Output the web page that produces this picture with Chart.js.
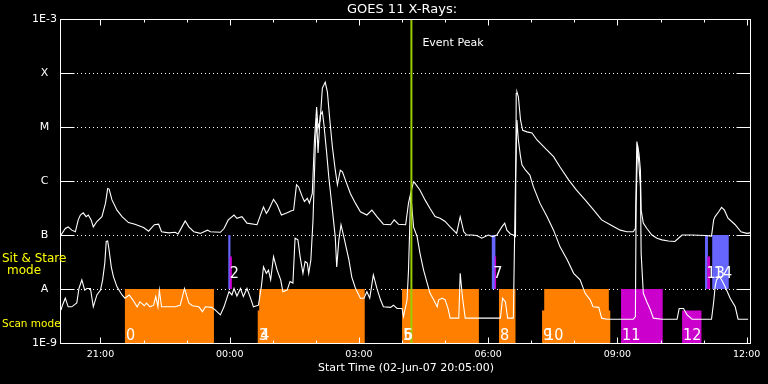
<!DOCTYPE html>
<html>
<head>
<meta charset="utf-8">
<script src="https://cdn.jsdelivr.net/npm/chart.js@4.4.1/dist/chart.umd.min.js"></script>
<style>
  html, body { margin: 0; padding: 0; background: #000; }
  canvas { display: block; }
</style>
</head>
<body>
<canvas id="goes" width="768" height="384"></canvas>
<script>
// GOES 11 X-ray flux, times in minutes after 02-Jun-07 20:05:00, flux as log10(W/m^2)
const longTime = [0, 6, 10, 15, 20, 24, 27, 31, 35, 38, 42, 45, 50, 57, 62, 65, 67, 71, 78, 85,
  94, 103, 115, 122, 130, 136, 140, 150, 159, 163, 166, 173, 178, 185, 194, 204, 208, 222, 227, 233,
  241, 245, 252, 259, 273, 282, 286, 289, 296, 301, 307, 315, 321, 324, 328, 331, 336, 339, 343, 346,
  350, 353, 356, 358, 361, 364, 368, 371, 374, 378, 382, 385, 389, 392, 396, 403, 410, 417, 426, 433,
  440, 449, 459, 464, 470, 480, 484, 487, 491, 493, 500, 507, 514, 521, 528, 535, 542, 551, 556, 561,
  565, 572, 579, 586, 595, 601, 607, 614, 618, 621, 626, 630, 633, 634, 635, 637, 640, 643, 649, 656,
  663, 677, 686, 695, 707, 718, 730, 742, 753, 765, 779, 788, 797, 800, 802, 805, 807, 808, 811, 816,
  823, 830, 837, 846, 855, 860, 865, 879, 897, 906, 909, 911, 916, 920, 924, 929, 939, 947, 955, 960];
const longLog = [-7.00, -6.88, -6.85, -6.91, -6.94, -6.72, -6.63, -6.59, -6.66, -6.63, -6.72, -6.85, -6.75, -6.66, -6.41, -6.14, -6.15, -6.35, -6.54, -6.66,
  -6.77, -6.80, -6.86, -6.93, -6.81, -6.80, -6.94, -6.96, -6.95, -6.98, -6.91, -6.74, -6.85, -6.94, -6.97, -6.91, -6.94, -6.95, -6.88, -6.72,
  -6.63, -6.69, -6.66, -6.78, -6.81, -6.48, -6.60, -6.54, -6.34, -6.44, -6.63, -6.59, -6.55, -6.54, -6.07, -6.11, -6.29, -6.38, -6.32, -6.41,
  -6.23, -5.24, -4.63, -5.02, -4.87, -4.28, -4.17, -4.35, -4.81, -5.37, -5.80, -6.07, -5.80, -5.83, -5.98, -6.23, -6.41, -6.57, -6.63, -6.54,
  -6.66, -6.80, -6.81, -6.72, -6.80, -6.81, -6.41, -6.23, -6.01, -6.04, -6.17, -6.35, -6.51, -6.66, -6.69, -6.75, -6.85, -6.97, -6.66, -6.94,
  -7.00, -7.00, -7.01, -7.06, -7.00, -7.03, -7.00, -6.85, -6.78, -6.91, -6.98, -7.00, -7.03, -4.38, -4.35, -4.44, -4.87, -5.06, -5.09, -5.11,
  -5.24, -5.43, -5.55, -5.74, -5.98, -6.17, -6.35, -6.54, -6.72, -6.81, -6.91, -6.94, -6.94, -6.88, -5.27, -5.49, -5.80, -6.54, -6.78, -6.88,
  -7.00, -7.06, -7.09, -7.11, -7.12, -7.06, -7.00, -7.00, -7.01, -7.02, -6.72, -6.66, -6.57, -6.49, -6.54, -6.69, -6.81, -6.94, -6.97, -6.96];

const shortTime = [0, 2, 6, 10, 15, 22, 25, 29, 33, 36, 41, 45, 50, 55, 58, 61, 63, 65, 67, 70,
  73, 78, 85, 89, 95, 100, 106, 110, 116, 119, 124, 129, 132, 135, 137, 140, 150, 159, 166, 172,
  176, 178, 183, 192, 197, 201, 210, 215, 222, 227, 234, 238, 241, 245, 250, 254, 259, 264, 268, 275,
  279, 282, 286, 289, 292, 296, 301, 306, 309, 315, 319, 323, 326, 330, 333, 337, 340, 343, 345, 348,
  351, 354, 356, 358, 361, 364, 366, 370, 373, 378, 382, 384, 387, 390, 394, 401, 405, 410, 417, 422,
  426, 430, 435, 440, 445, 449, 459, 463, 468, 475, 477, 482, 484, 487, 491, 496, 500, 505, 510, 514,
  519, 524, 526, 531, 535, 539, 542, 554, 556, 559, 563, 600, 612, 615, 619, 622, 630, 633, 635, 637,
  640, 642, 647, 653, 658, 667, 677, 686, 695, 705, 714, 723, 730, 737, 741, 749, 753, 760, 797, 800,
  801, 803, 807, 808, 811, 816, 821, 825, 837, 858, 861, 867, 872, 879, 906, 909, 911, 913, 917, 920,
  925, 932, 939, 943, 957];
const shortLog = [-8.39, -8.30, -8.17, -8.33, -8.33, -8.26, -7.99, -7.83, -8.02, -7.99, -7.99, -8.33, -8.11, -8.02, -7.83, -7.52, -7.12, -7.11, -7.28, -7.59,
  -7.77, -7.96, -8.11, -8.17, -8.11, -8.20, -8.33, -8.24, -8.31, -8.26, -8.33, -8.30, -8.14, -8.33, -8.02, -8.33, -8.33, -8.33, -8.30, -7.99,
  -8.17, -8.26, -8.31, -8.33, -8.42, -8.33, -8.34, -8.39, -8.48, -8.33, -8.05, -8.11, -7.99, -8.13, -7.99, -8.14, -7.99, -8.17, -8.33, -8.30,
  -7.96, -7.59, -7.71, -7.65, -7.83, -7.40, -7.65, -7.83, -8.05, -8.02, -7.86, -7.89, -7.06, -7.09, -7.40, -7.71, -7.49, -7.52, -7.71, -7.46,
  -6.72, -5.43, -4.83, -5.48, -4.78, -4.72, -4.93, -5.48, -5.93, -6.54, -7.04, -7.59, -7.09, -6.81, -7.04, -7.46, -7.78, -7.98, -8.17, -8.17,
  -8.05, -8.17, -7.74, -7.99, -8.20, -8.33, -8.34, -8.30, -8.36, -8.36, -8.51, -8.20, -7.65, -6.23, -6.85, -7.03, -7.34, -7.65, -7.89, -8.08,
  -8.20, -8.33, -8.20, -8.17, -8.20, -8.36, -8.54, -8.54, -7.71, -8.14, -8.54, -8.54, -8.54, -8.17, -8.24, -8.54, -8.54, -5.98, -4.87, -5.24,
  -5.55, -5.70, -5.80, -5.89, -6.11, -6.41, -6.66, -6.91, -7.22, -7.46, -7.71, -7.83, -8.08, -8.20, -8.33, -8.34, -8.54, -8.56, -8.56, -8.51,
  -6.44, -5.33, -6.11, -7.34, -8.08, -8.24, -8.39, -8.54, -8.56, -8.56, -8.36, -8.36, -8.48, -8.56, -8.56, -8.24, -7.96, -7.83, -7.77, -7.83,
  -7.96, -8.17, -8.33, -8.56, -8.56];

// axes
const yTickValues = [1e-9, 1e-8, 1e-7, 1e-6, 1e-5, 1e-4, 1e-3];
const yTickLabels = ['1E-9', 'A', 'B', 'C', 'M', 'X', '1E-3'];
const xTickValues = [55, 235, 415, 595, 775, 955];
const xTickLabels = ['21:00', '00:00', '03:00', '06:00', '09:00', '12:00'];
const hourTicks = [55, 115, 175, 235, 295, 355, 415, 475, 535, 595, 655, 715, 775, 835, 895, 955];

// scan mode observations (minutes, flux)
const scanLabels = ['0', '3', '4', '5', '6', '8', '9', '10', '11', '12'];
const scanStart = [89, 274, 276, 475, 476, 610, 670, 673, 780, 865];
const scanEnd = [213, 277, 423, 478, 582, 633, 765, 763, 838, 892];
const scanTop = [1e-8, 4e-9, 1e-8, 1e-8, 1e-8, 1e-8, 4e-9, 1e-8, 1e-8, 4e-9];
const scanGroup = [0, 0, 0, 0, 0, 0, 0, 0, 1, 1];

// sit & stare observations
const stareLabels = ['2', '7', '13', '14'];
const stareStart = [233, 600, 897, 907];
const stareEnd = [236, 605, 901, 930];
const markStart = [235, 604, 900];
const markEnd = [238, 606, 904];
const markTop = 4e-8;

const eventPeak = 488;

const scanFill = ['#ff8000', '#cc00cc'];
const stareFill = '#6666ff';
const markFill = '#cc00cc';

function toPoints(times, logs) {
  return times.map((t, i) => ({ x: t, y: Math.pow(10, logs[i]) }));
}

const overlay = {
  id: 'overlay',
  beforeDraw(chart) {
    const ctx = chart.ctx;
    ctx.save();
    ctx.fillStyle = '#000';
    ctx.fillRect(0, 0, chart.width, chart.height);
    ctx.restore();
  },
  beforeDatasetsDraw(chart) {
    const { ctx, chartArea: a, scales: { x, y } } = chart;
    ctx.save();
    // dotted level lines
    ctx.strokeStyle = '#fff';
    ctx.lineWidth = 1;
    ctx.setLineDash([1, 3]);
    yTickValues.slice(1, -1).forEach(v => {
      const py = Math.round(y.getPixelForValue(v)) + 0.5;
      ctx.beginPath();
      ctx.moveTo(a.left + 16, py);
      ctx.lineTo(a.right - 14, py);
      ctx.stroke();
    });
    ctx.setLineDash([]);

    const yBase = y.getPixelForValue(1e-9);
    scanStart.forEach((s, i) => {
      const x0 = x.getPixelForValue(s), x1 = x.getPixelForValue(scanEnd[i]);
      const y0 = y.getPixelForValue(scanTop[i]);
      ctx.fillStyle = scanFill[scanGroup[i]];
      ctx.fillRect(x0, y0, x1 - x0, yBase - y0);
    });
    const sTop = y.getPixelForValue(1e-7), sBot = y.getPixelForValue(1e-8);
    stareStart.forEach((s, i) => {
      const x0 = x.getPixelForValue(s), x1 = x.getPixelForValue(stareEnd[i]);
      ctx.fillStyle = stareFill;
      ctx.fillRect(x0, sTop, x1 - x0, sBot - sTop);
    });
    const mTop = y.getPixelForValue(markTop);
    markStart.forEach((s, i) => {
      const x0 = x.getPixelForValue(s), x1 = x.getPixelForValue(markEnd[i]);
      ctx.fillStyle = markFill;
      ctx.fillRect(x0, mTop, x1 - x0, sBot - mTop);
    });
    ctx.restore();
  },
  afterDatasetsDraw(chart) {
    const { ctx, chartArea: a, scales: { x, y } } = chart;
    ctx.save();

    // event peak marker
    const ex = x.getPixelForValue(eventPeak);
    ctx.strokeStyle = '#99cc00';
    ctx.lineWidth = 2;
    ctx.beginPath();
    ctx.moveTo(ex, a.top);
    ctx.lineTo(ex, a.bottom);
    ctx.stroke();

    // frame
    ctx.strokeStyle = '#fff';
    ctx.lineWidth = 1;
    const L = a.left - 0.5, R = a.right - 0.5, T = a.top + 0.5, B = a.bottom + 0.5;
    ctx.strokeRect(L, T, R - L, B - T);

    // level ticks, both sides
    yTickValues.slice(1, -1).forEach(v => {
      const py = Math.round(y.getPixelForValue(v)) + 0.5;
      ctx.beginPath();
      ctx.moveTo(L, py); ctx.lineTo(L + 14, py);
      ctx.moveTo(R - 14, py); ctx.lineTo(R, py);
      ctx.stroke();
    });
    // hour ticks, top and bottom
    hourTicks.forEach(t => {
      const px = Math.round(x.getPixelForValue(t)) + 0.5;
      const len = xTickValues.includes(t) ? 6 : 3;
      ctx.beginPath();
      ctx.moveTo(px, T); ctx.lineTo(px, T + len);
      ctx.moveTo(px, B); ctx.lineTo(px, B - len);
      ctx.stroke();
    });

    // observation numbers
    ctx.fillStyle = '#fff';
    ctx.font = '16px "DejaVu Sans Condensed", "DejaVu Sans", sans-serif';
    ctx.textAlign = 'left';
    ctx.textBaseline = 'alphabetic';
    const yBase = y.getPixelForValue(1e-9);
    scanStart.forEach((s, i) => {
      ctx.fillText(scanLabels[i], x.getPixelForValue(s) + 1, yBase - 3);
    });
    const sBot = y.getPixelForValue(1e-8);
    stareStart.forEach((s, i) => {
      ctx.fillText(stareLabels[i], x.getPixelForValue(s) + 1.5, sBot - 11);
    });

    // texts
    ctx.font = '11px "DejaVu Sans", sans-serif';
    ctx.textBaseline = 'middle';
    ctx.fillText('Event Peak', ex + 11, 43);

    ctx.textAlign = 'center';
    ctx.font = '13px "DejaVu Sans", sans-serif';
    ctx.fillText('GOES 11 X-Rays:', (a.left + a.right) / 2 - 4, 10);

    ctx.fillStyle = '#ffff00';
    ctx.font = '12px "DejaVu Sans", sans-serif';
    ctx.textAlign = 'left';
    ctx.fillText('Sit & Stare', 2, 259);
    ctx.textAlign = 'center';
    ctx.fillText('mode', 24, 271);
    ctx.font = '10.5px "DejaVu Sans", sans-serif';
    ctx.textAlign = 'left';
    ctx.fillText('Scan mode', 2, 324);
    ctx.restore();
  }
};

new Chart(document.getElementById('goes'), {
  type: 'line',
  data: {
    datasets: [
      { label: 'long', data: toPoints(longTime, longLog), borderColor: '#fff', borderWidth: 1.1, pointRadius: 0, tension: 0 },
      { label: 'short', data: toPoints(shortTime, shortLog), borderColor: '#fff', borderWidth: 1.1, pointRadius: 0, tension: 0 }
    ]
  },
  options: {
    responsive: false,
    animation: false,
    devicePixelRatio: 1,
    layout: { padding: { top: 19, right: 17, left: 0, bottom: 0 } },
    plugins: { legend: { display: false }, tooltip: { enabled: false } },
    scales: {
      x: {
        type: 'linear',
        min: 0,
        max: 961,
        afterBuildTicks: s => { s.ticks = xTickValues.map(v => ({ value: v })); },
        afterFit: s => { s.height = 41; },
        grid: { display: false, drawTicks: false },
        border: { display: false },
        ticks: {
          color: '#fff',
          font: { family: 'DejaVu Sans', size: 9.5 },
          padding: 6,
          maxRotation: 0,
          autoSkip: false,
          callback: (v, i) => xTickLabels[i]
        },
        title: {
          display: true,
          text: 'Start Time (02-Jun-07 20:05:00)',
          color: '#fff',
          font: { family: 'DejaVu Sans', size: 11 },
          padding: { top: 0, bottom: 9 }
        }
      },
      y: {
        type: 'logarithmic',
        min: 1e-9,
        max: 1e-3,
        afterBuildTicks: s => { s.ticks = yTickValues.map(v => ({ value: v })); },
        afterFit: s => { s.width = 61; },
        grid: { display: false, drawTicks: false },
        border: { display: false },
        ticks: {
          color: '#fff',
          font: { family: 'DejaVu Sans', size: 11 },
          padding: 4,
          crossAlign: 'center',
          autoSkip: false,
          callback: (v, i) => yTickLabels[i]
        }
      }
    }
  },
  plugins: [overlay]
});
</script>
</body>
</html>
